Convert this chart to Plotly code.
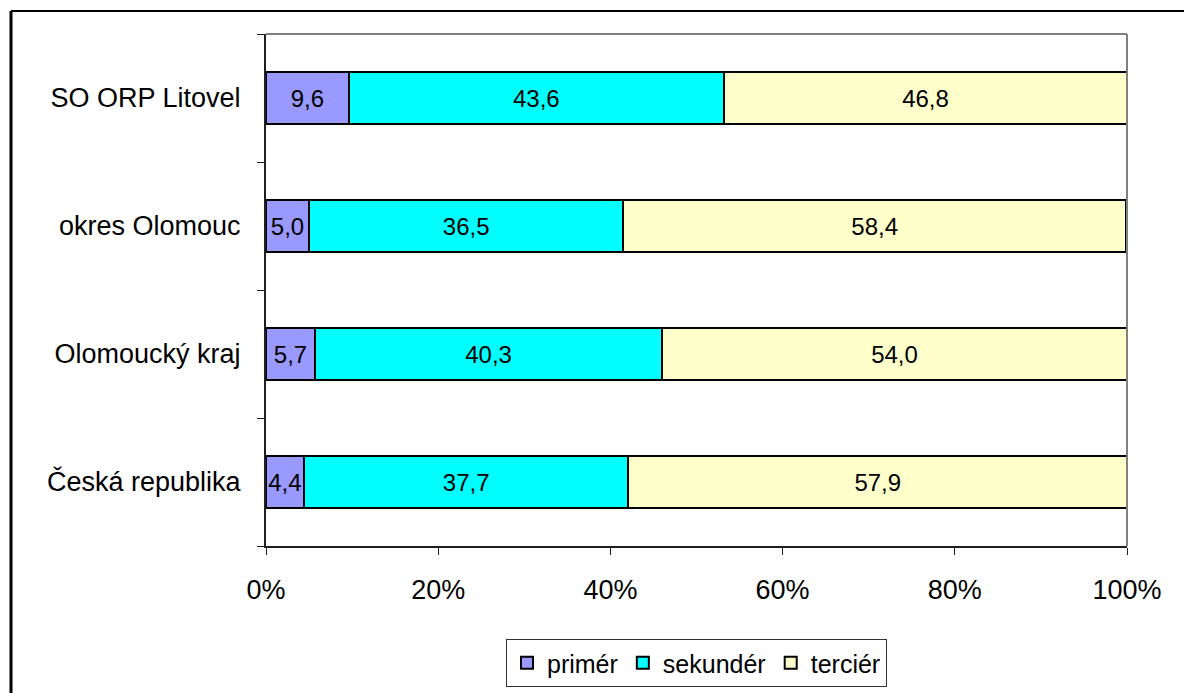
import plotly.graph_objects as go

categories = ["Česká republika", "Olomoucký kraj", "okres Olomouc", "SO ORP Litovel"]
primer = [4.4, 5.7, 5.0, 9.6]
sekunder = [37.7, 40.3, 36.5, 43.6]
tercier = [57.9, 54.0, 58.4, 46.8]
series_names = ["primér", "sekundér", "terciér"]
colors = ["#9999FF", "#00FFFF", "#FFFFCC"]
x_ticks = [0, 20, 40, 60, 80, 100]
x_tick_labels = ["0%", "20%", "40%", "60%", "80%", "100%"]

W, H = 1192, 693
OFF = 8  # page body margin
L, R, T, B = 266 - OFF, 1127 - OFF, 34 - OFF, 546 - OFF
pw, ph = R - L, B - T

def fmt(v):
    return f"{v:.1f}".replace(".", ",")

fig = go.Figure()
for name, vals, col in zip(series_names, [primer, sekunder, tercier], colors):
    fig.add_trace(go.Bar(
        y=categories, x=vals, name=name, orientation="h",
        marker=dict(color=col, line=dict(color="black", width=2)),
        text=[fmt(v) for v in vals], textposition="inside",
        insidetextanchor="middle", constraintext="none", textangle=0,
        textfont=dict(family="Liberation Sans, Arial", size=24, color="black"),
        width=0.4,
    ))

fig.update_layout(
    barmode="stack",
    width=W, height=H,
    margin=dict(l=L, r=W - R, t=T, b=H - B, pad=0),
    paper_bgcolor="white", plot_bgcolor="white",
    font=dict(family="Liberation Sans, Arial", size=27, color="black"),
    showlegend=True,
    legend=dict(
        orientation="h", x=0.5, xanchor="center",
        y=(B - (639 - OFF)) / ph, yanchor="top",
        bordercolor="#303030", borderwidth=1,
        font=dict(size=25), traceorder="normal",
        itemwidth=30,
    ),
    xaxis=dict(
        range=[0, 100], tickvals=x_ticks, ticktext=x_tick_labels,
        showgrid=False, zeroline=False,
        showline=True, linecolor="#202020", linewidth=2,
        ticks="outside", ticklen=7, tickcolor="#202020", tickwidth=1,
        ticklabelstandoff=12,
        tickfont=dict(size=27), fixedrange=True,
    ),
    yaxis=dict(
        categoryorder="array", categoryarray=categories,
        range=[-0.5, 3.5],
        showgrid=False, zeroline=False,
        showline=True, linecolor="#202020", linewidth=2,
        ticks="outside", ticklen=7, tickcolor="#202020", tickwidth=1,
        tickson="boundaries", ticklabelstandoff=18,
        tickfont=dict(size=27), fixedrange=True,
    ),
    uniformtext=dict(mode=False),
)

# plot area grey top/right border
fig.add_shape(type="line", xref="paper", yref="paper", x0=0, x1=1, y0=1, y1=1,
              line=dict(color="#808080", width=2))
fig.add_shape(type="line", xref="paper", yref="paper", x0=1, x1=1, y0=0, y1=1,
              line=dict(color="#808080", width=2))

# outer chart frame (clipped on right and bottom)
fx = (11 - OFF - L) / pw
fy = 1 + (T - (11 - OFF)) / ph
fig.add_shape(type="line", xref="paper", yref="paper", x0=fx, x1=fx, y0=fy, y1=-0.5,
              line=dict(color="black", width=3))
fig.add_shape(type="line", xref="paper", yref="paper", x0=fx, x1=1.2, y0=fy, y1=fy,
              line=dict(color="black", width=2))

fig.write_html("out.html")
